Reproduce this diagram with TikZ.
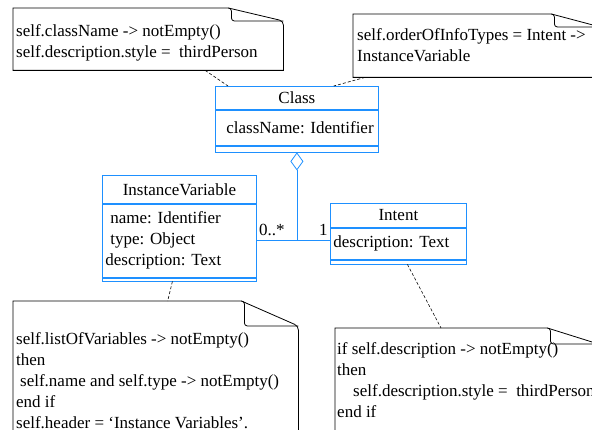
\documentclass[tikz,border=0pt]{standalone}
\usepackage{fontspec}
\setmainfont{Liberation Serif}
\usepackage{tikz}
\usetikzlibrary{arrows.meta,positioning,calc}
\definecolor{umlblue}{HTML}{1E90FF}
\tikzset{
  classname/.style ={draw=umlblue,line width=0.8pt,align=center,inner xsep=3pt,
                     inner ysep=0pt,anchor=north west},
  classattr/.style ={draw=umlblue,line width=0.8pt,align=left,inner xsep=3pt,
                     inner ysep=0pt},
  classops/.style  ={draw=umlblue,line width=0.8pt,inner sep=0pt},
  notebox/.style   ={inner sep=0pt,anchor=north west},
  notetext/.style  ={align=left,inner sep=0pt,anchor=north west},
  noteline/.style  ={line width=0.8pt,draw=black},
  anchorline/.style={draw=black,line width=0.6pt,dash pattern=on 3pt off 2pt},
  aggregation/.style={{Diamond[open,length=18pt,width=13pt]}-,line width=0.8pt,draw=umlblue},
  assoc/.style     ={line width=0.8pt,draw=umlblue},
  mult/.style      ={inner xsep=2pt,inner ysep=5pt}
}
\frenchspacing

\begin{document}
\begin{tikzpicture}[x=1pt,y=-1pt,font=\fontsize{17}{21}\selectfont]
  \path[use as bounding box,clip] (0,0) rectangle (592,430);

  % classes
  \node[classname,text width=157pt,minimum height=23pt] (class) at (215,86) {Class};
  \node[classattr,text width=157pt,minimum height=35pt,below=0pt of class] (classattr)
    {\hspace*{8pt}className: Identifier};
  \node[classops,minimum width=163pt,minimum height=6pt,below=0pt of classattr] (classops) {};

  \node[classname,text width=148pt,minimum height=28pt] (iv) at (102,175) {InstanceVariable};
  \node[classattr,text width=148pt,minimum height=73pt,below=0pt of iv] (ivattr)
    {\hspace*{5pt}name: Identifier\\\hspace*{5pt}type: Object\\description: Text};
  \node[classops,minimum width=154pt,minimum height=3pt,below=0pt of ivattr] (ivops) {};

  \node[classname,text width=130pt,minimum height=24pt] (intent) at (330,203) {Intent};
  \node[classattr,text width=130pt,minimum height=31pt,below=0pt of intent] (intentattr)
    {description: Text};
  \node[classops,minimum width=136pt,minimum height=4pt,below=0pt of intentattr] (intentops) {};

  % aggregation
  \draw[aggregation] (classops.south) -- (classops.south |- ivattr.east);
  \draw[assoc] (ivattr.east) -- node[mult,pos=0,anchor=south west] {0..*}
    (ivattr.east -| intentattr.west) node[mult,anchor=south east] {1};

  % notes
  \node[notebox,minimum width=270pt,minimum height=62pt] (note1) at (13,8) {};
  \node[notetext] (note1text) at ([shift={(3,16)}]note1.north west)
    {self.className -> notEmpty()\\self.description.style = \ thirdPerson};

  \node[notebox,minimum width=247pt,minimum height=63pt] (note2) at (353,14) {};
  \node[notetext] (note2text) at ([shift={(4,14)}]note2.north west)
    {self.orderOfInfoTypes = Intent ->\\InstanceVariable};

  \node[notebox,minimum width=285pt,minimum height=149pt] (note3) at (13,301) {};
  \node[notetext] (note3text) at ([shift={(3,31)}]note3.north west)
    {self.listOfVariables -> notEmpty()\\then\\\hspace*{4pt}self.name and self.type -> notEmpty()\\end if\\self.header = ‘Instance Variables’.};

  \node[notebox,minimum width=263pt,minimum height=122pt] (note4) at (335,328) {};
  \node[notetext] (note4text) at ([shift={(2,14)}]note4.north west)
    {if self.description -> notEmpty()\\then\\\hspace*{16pt}self.description.style = \ thirdPerson\\end if};

  \foreach \n/\w/\h in {note1/55/13,note2/49/13,note3/57/25,note4/51/16}{
    \draw[noteline] (\n.south east) -- (\n.south west) -- (\n.north west)
      -- ($(\n.north east)+(-\w,0)$) [rounded corners=4pt]
      -- ($(\n.north east)+(0,\h)$) [sharp corners] -- cycle;
    \draw[noteline] ($(\n.north east)+(-\w,0)$) [rounded corners=3pt]
      -- ($(\n.north east)+(-\w+3,0)$) -- ($(\n.north east)+(-\w+3,\h)$)
      [sharp corners] -- ($(\n.north east)+(0,\h)$);
  }

  % anchors
  \draw[anchorline] ([xshift=57pt]note1.south) -- ([xshift=13pt]class.north west);
  \draw[anchorline] ([xshift=12pt]note2.south west) -- ([xshift=-45pt]class.north east);
  \draw[anchorline] ([xshift=-7pt]ivops.south) -- ([xshift=12pt]note3.north);
  \draw[anchorline] ([xshift=9pt]intentops.south) -- ([xshift=106pt]note4.north west);
\end{tikzpicture}
\end{document}
